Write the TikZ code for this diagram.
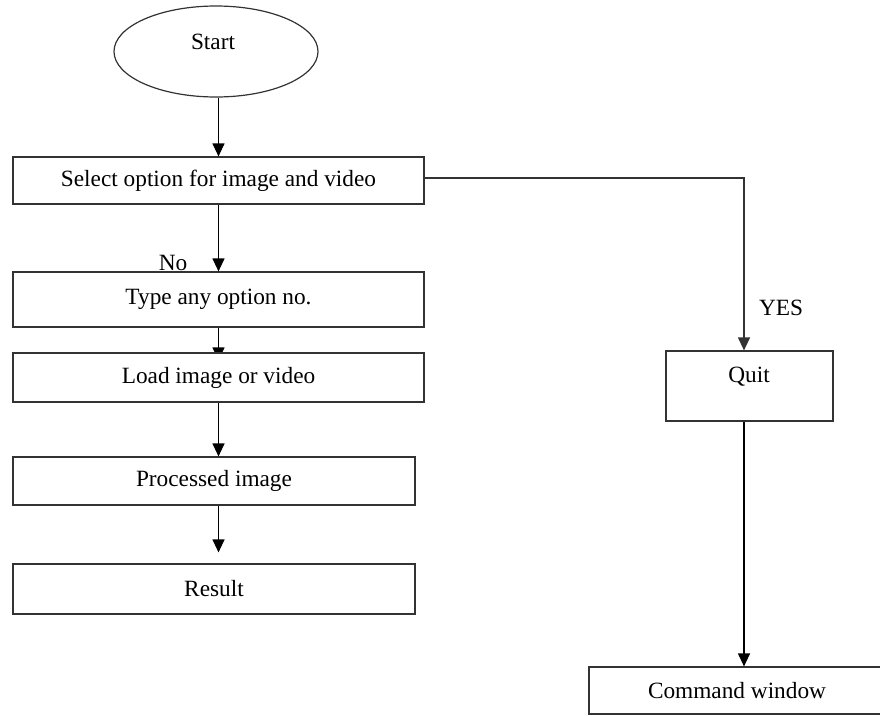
\documentclass[tikz,border=0pt]{standalone}
\usepackage{fontspec}
\setmainfont{Liberation Serif}
\usetikzlibrary{arrows.meta,shapes.geometric}
\pgfdeclarelayer{background}
\pgfsetlayers{background,main}
\tikzset{
  box/.style={draw=black!80, line width=1.2pt, fill=white, rectangle, inner sep=0pt},
  lbl/.style={inner sep=0pt, font=\fontsize{23.3}{27}\selectfont},
  arr/.style={draw=black, line width=1.2pt, -{Triangle[length=13pt,width=12pt]}},
  conn/.style={draw=black!80, line width=1.2pt},
}
\begin{document}
\begin{tikzpicture}[x=1pt,y=-1pt]
\useasboundingbox (0,0) rectangle (880,715);
\clip (0,0) rectangle (880,715);
\coordinate (lx) at (218.5,0);
\coordinate (rx) at (744,0);
% nodes
\node[box, ellipse, minimum width=204pt, minimum height=91pt] (start) at (216,51.5) {};
\node[lbl] (starttxt) at (213,42) {Start};
\node[box, minimum width=411pt, minimum height=47pt, lbl] (sel) at (218.5,180.5) {Select option for image and video};
\node[box, minimum width=411pt, minimum height=55pt, lbl] (type) at (218.5,299.5) {Type any option no.};
\node[box, minimum width=411pt, minimum height=49pt, lbl] (load) at (218.5,377.5) {Load image or video};
\node[box, minimum width=402pt, minimum height=48pt, lbl] (proc) at (214,481) {Processed image};
\node[box, minimum width=402pt, minimum height=50pt, lbl] (res) at (214,589) {Result};
\node[box, minimum width=167pt, minimum height=70pt] (quit) at (749.5,386) {};
\node[lbl] (quittxt) at (749,377) {Quit};
\node[box, minimum width=296pt, minimum height=47pt, lbl] (cmd) at (737,690.5) {Command window};
\node[lbl] (no) at (173,263) {No};
\node[lbl] (yes) at (781,308) {YES};
% connectors
\draw[arr] (start.south -| lx) -- (sel.north -| lx);
\draw[arr] (sel.south -| lx) -- (type.north -| lx);
\begin{pgfonlayer}{background}
\draw[arr, shorten >=-8pt] (type.south -| lx) -- (load.north -| lx);
\end{pgfonlayer}
\draw[arr] (load.south -| lx) -- (proc.north -| lx);
\draw[arr, shorten >=11pt] (proc.south -| lx) -- (res.north -| lx);
\draw[conn, -{Triangle[length=13pt,width=12pt]}] ([yshift=2.5pt]sel.east) -| (quit.north -| rx);
\draw[arr] (quit.south -| rx) -- (cmd.north -| rx);
\end{tikzpicture}
\end{document}
